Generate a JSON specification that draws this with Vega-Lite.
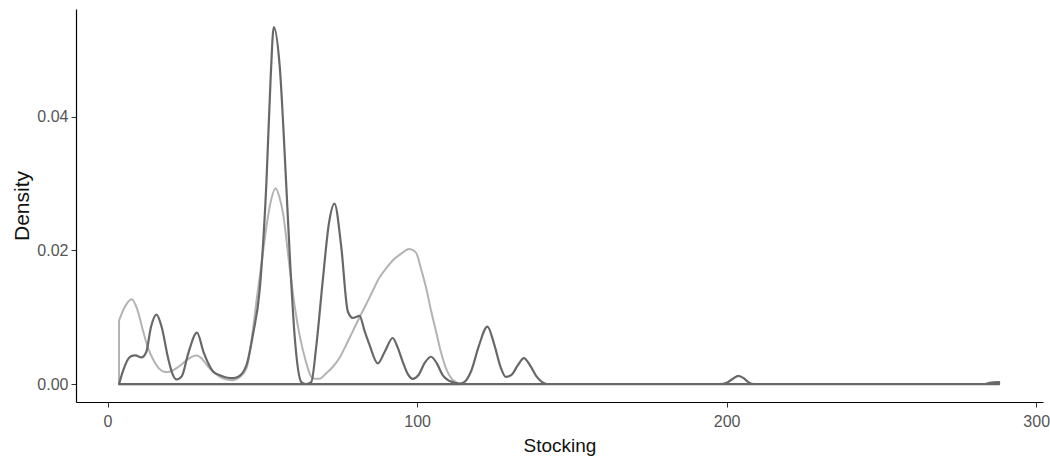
{
  "$schema": "https://vega.github.io/schema/vega-lite/v6.json",
  "width": 967,
  "height": 393,
  "autosize": {"type": "none"},
  "padding": {"left": 76, "top": 9, "right": 7, "bottom": 61},
  "background": "white",
  "config": {
    "view": {"stroke": null},
    "axis": {
      "grid": false,
      "domainColor": "#000000",
      "domainWidth": 1.2,
      "tickColor": "#333333",
      "tickSize": 5,
      "labelFont": "Liberation Sans",
      "labelFontSize": 16,
      "labelColor": "#555555",
      "titleFont": "Liberation Sans",
      "titleFontWeight": "normal",
      "titleColor": "#111111"
    }
  },
  "data": {
    "values": [
      {"series": "dark", "x": 3.7, "y": 0},
      {"series": "dark", "x": 5, "y": 0.002},
      {"series": "dark", "x": 7.3, "y": 0.0041},
      {"series": "dark", "x": 9, "y": 0.0043},
      {"series": "dark", "x": 11, "y": 0.004},
      {"series": "dark", "x": 12.5, "y": 0.0048},
      {"series": "dark", "x": 14, "y": 0.0085},
      {"series": "dark", "x": 15.8, "y": 0.0104},
      {"series": "dark", "x": 17.5, "y": 0.0085},
      {"series": "dark", "x": 19.5, "y": 0.004},
      {"series": "dark", "x": 21, "y": 0.0015},
      {"series": "dark", "x": 22.3, "y": 0.0007},
      {"series": "dark", "x": 24, "y": 0.0012},
      {"series": "dark", "x": 26, "y": 0.0045},
      {"series": "dark", "x": 28.9, "y": 0.0077},
      {"series": "dark", "x": 31, "y": 0.0048},
      {"series": "dark", "x": 34.1, "y": 0.0019},
      {"series": "dark", "x": 36.5, "y": 0.0013},
      {"series": "dark", "x": 38.4, "y": 0.001},
      {"series": "dark", "x": 40.5, "y": 0.0009},
      {"series": "dark", "x": 42.2, "y": 0.0011},
      {"series": "dark", "x": 44.9, "y": 0.0029},
      {"series": "dark", "x": 47, "y": 0.0075},
      {"series": "dark", "x": 49.1, "y": 0.0139},
      {"series": "dark", "x": 51.3, "y": 0.03},
      {"series": "dark", "x": 52.7, "y": 0.046},
      {"series": "dark", "x": 53.7, "y": 0.0534},
      {"series": "dark", "x": 55.6, "y": 0.0476},
      {"series": "dark", "x": 57.7, "y": 0.03},
      {"series": "dark", "x": 59, "y": 0.018},
      {"series": "dark", "x": 60.4, "y": 0.0074},
      {"series": "dark", "x": 62.6, "y": 0.0003},
      {"series": "dark", "x": 64.1, "y": 0},
      {"series": "dark", "x": 65.8, "y": 0.0003},
      {"series": "dark", "x": 67.5, "y": 0.006},
      {"series": "dark", "x": 69.5, "y": 0.0154},
      {"series": "dark", "x": 71.5, "y": 0.024},
      {"series": "dark", "x": 73.3, "y": 0.027},
      {"series": "dark", "x": 75.5, "y": 0.0205},
      {"series": "dark", "x": 77.6, "y": 0.0109},
      {"series": "dark", "x": 79.2, "y": 0.0099},
      {"series": "dark", "x": 81.4, "y": 0.0102},
      {"series": "dark", "x": 83, "y": 0.008},
      {"series": "dark", "x": 84.6, "y": 0.0059},
      {"series": "dark", "x": 87.3, "y": 0.0031},
      {"series": "dark", "x": 89.5, "y": 0.0048},
      {"series": "dark", "x": 92.1, "y": 0.0069},
      {"series": "dark", "x": 93.7, "y": 0.0055},
      {"series": "dark", "x": 95.3, "y": 0.0034},
      {"series": "dark", "x": 97, "y": 0.0015},
      {"series": "dark", "x": 98.6, "y": 0.0008},
      {"series": "dark", "x": 100.5, "y": 0.0014},
      {"series": "dark", "x": 102.5, "y": 0.0032},
      {"series": "dark", "x": 104.5, "y": 0.0041},
      {"series": "dark", "x": 106.5, "y": 0.003},
      {"series": "dark", "x": 108.2, "y": 0.0014},
      {"series": "dark", "x": 111.4, "y": 0.0003},
      {"series": "dark", "x": 113.5, "y": 0.0001},
      {"series": "dark", "x": 115.2, "y": 0.0003},
      {"series": "dark", "x": 117.5, "y": 0.002},
      {"series": "dark", "x": 120, "y": 0.0058},
      {"series": "dark", "x": 122.7, "y": 0.0086},
      {"series": "dark", "x": 125, "y": 0.0058},
      {"series": "dark", "x": 127, "y": 0.0025},
      {"series": "dark", "x": 128.6, "y": 0.0011},
      {"series": "dark", "x": 130.5, "y": 0.0014},
      {"series": "dark", "x": 132.5, "y": 0.0028},
      {"series": "dark", "x": 134.5, "y": 0.0039},
      {"series": "dark", "x": 136.5, "y": 0.0028},
      {"series": "dark", "x": 138.5, "y": 0.0012},
      {"series": "dark", "x": 140.4, "y": 0.0003},
      {"series": "dark", "x": 142, "y": 0},
      {"series": "dark", "x": 198, "y": 0},
      {"series": "dark", "x": 200, "y": 0.0002},
      {"series": "dark", "x": 202, "y": 0.0008},
      {"series": "dark", "x": 203.8, "y": 0.00125},
      {"series": "dark", "x": 205.5, "y": 0.0009},
      {"series": "dark", "x": 207, "y": 0.0003},
      {"series": "dark", "x": 209, "y": 0},
      {"series": "dark", "x": 283, "y": 0},
      {"series": "dark", "x": 285, "y": 0.0002},
      {"series": "dark", "x": 288, "y": 0.0003},
      {"series": "light", "x": 3.7, "y": 0.0095},
      {"series": "light", "x": 5.5, "y": 0.0115},
      {"series": "light", "x": 7.8, "y": 0.0127},
      {"series": "light", "x": 9.5, "y": 0.0113},
      {"series": "light", "x": 11.5, "y": 0.0079},
      {"series": "light", "x": 13, "y": 0.0055},
      {"series": "light", "x": 14.8, "y": 0.0036},
      {"series": "light", "x": 16.5, "y": 0.0024},
      {"series": "light", "x": 18, "y": 0.0019},
      {"series": "light", "x": 19.5, "y": 0.0018},
      {"series": "light", "x": 21.2, "y": 0.0021},
      {"series": "light", "x": 23.5, "y": 0.0028},
      {"series": "light", "x": 25.5, "y": 0.0036},
      {"series": "light", "x": 28.7, "y": 0.0043},
      {"series": "light", "x": 30.5, "y": 0.0038},
      {"series": "light", "x": 32, "y": 0.0029},
      {"series": "light", "x": 34, "y": 0.0019},
      {"series": "light", "x": 36.3, "y": 0.0011},
      {"series": "light", "x": 38.5, "y": 0.0007},
      {"series": "light", "x": 40.5, "y": 0.0006},
      {"series": "light", "x": 42.5, "y": 0.001},
      {"series": "light", "x": 44.9, "y": 0.0024},
      {"series": "light", "x": 46.5, "y": 0.0065},
      {"series": "light", "x": 48.1, "y": 0.0124},
      {"series": "light", "x": 50, "y": 0.019},
      {"series": "light", "x": 51.3, "y": 0.0235},
      {"series": "light", "x": 52.8, "y": 0.0275},
      {"series": "light", "x": 54.3, "y": 0.0293},
      {"series": "light", "x": 55.5, "y": 0.028},
      {"series": "light", "x": 56.7, "y": 0.0255},
      {"series": "light", "x": 58.8, "y": 0.0175},
      {"series": "light", "x": 60.5, "y": 0.0115},
      {"series": "light", "x": 62, "y": 0.0074},
      {"series": "light", "x": 64, "y": 0.0035},
      {"series": "light", "x": 65.8, "y": 0.0011},
      {"series": "light", "x": 67, "y": 0.0008},
      {"series": "light", "x": 68.5, "y": 0.0008},
      {"series": "light", "x": 70.6, "y": 0.0016},
      {"series": "light", "x": 72.8, "y": 0.0026},
      {"series": "light", "x": 74.9, "y": 0.0039},
      {"series": "light", "x": 77, "y": 0.0058},
      {"series": "light", "x": 79.2, "y": 0.0079},
      {"series": "light", "x": 81.3, "y": 0.0099},
      {"series": "light", "x": 83.5, "y": 0.0119},
      {"series": "light", "x": 85.6, "y": 0.0139},
      {"series": "light", "x": 87.8, "y": 0.0159},
      {"series": "light", "x": 90, "y": 0.0173},
      {"series": "light", "x": 92.1, "y": 0.0185},
      {"series": "light", "x": 94.8, "y": 0.0195},
      {"series": "light", "x": 97.5, "y": 0.0202},
      {"series": "light", "x": 99.6, "y": 0.0197},
      {"series": "light", "x": 101.3, "y": 0.0172},
      {"series": "light", "x": 102.9, "y": 0.0144},
      {"series": "light", "x": 104.5, "y": 0.011},
      {"series": "light", "x": 106.1, "y": 0.0079},
      {"series": "light", "x": 107.7, "y": 0.0048},
      {"series": "light", "x": 109.3, "y": 0.0024},
      {"series": "light", "x": 111, "y": 0.0009},
      {"series": "light", "x": 112.5, "y": 0.0003},
      {"series": "light", "x": 114, "y": 0}
    ]
  },
  "encoding": {
    "x": {
      "field": "x",
      "type": "quantitative",
      "title": "Stocking",
      "scale": {"domain": [-10.2, 302.2], "nice": false, "zero": false},
      "axis": {"values": [0, 100, 200, 300], "labelPadding": 6, "titlePadding": 7, "titleFontSize": 19}
    },
    "y": {
      "field": "y",
      "type": "quantitative",
      "title": "Density",
      "scale": {"domain": [-0.00267, 0.0561], "nice": false, "zero": false},
      "axis": {"values": [0, 0.02, 0.04], "format": ".2f", "labelPadding": 3, "titlePadding": 4, "titleFontSize": 21}
    }
  },
  "layer": [
    {
      "transform": [{"filter": "datum.series === 'light'"}],
      "mark": {"type": "area", "interpolate": "monotone", "fill": "transparent", "stroke": "#b3b3b3", "strokeWidth": 2, "strokeJoin": "round"}
    },
    {
      "transform": [{"filter": "datum.series === 'dark'"}],
      "mark": {"type": "area", "interpolate": "monotone", "fill": "transparent", "stroke": "#686868", "strokeWidth": 2.2, "strokeJoin": "round"}
    }
  ]
}
